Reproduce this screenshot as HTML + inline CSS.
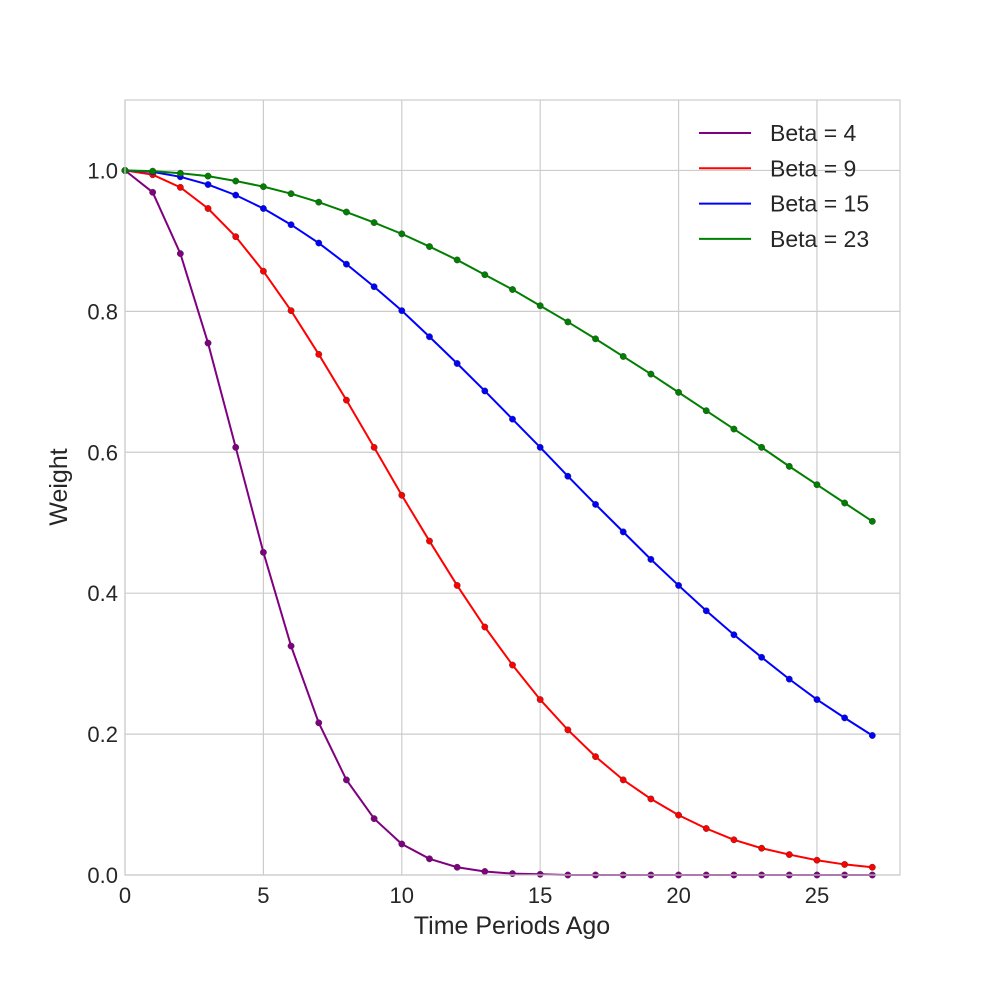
<!DOCTYPE html>
<html><head><meta charset="utf-8"><style>body{margin:0;background:#fff}svg{display:block;font-family:"Liberation Sans",Arial,sans-serif}</style></head>
<body>
<svg id="chart" width="1000" height="1000">
<rect x="0" y="0" width="1000" height="1000" fill="#fff"/>
<g id="grid"></g>
<g id="series"></g>
<rect x="125" y="100" width="775" height="775" fill="none" stroke="#cccccc" stroke-width="1.2"/>
<g id="ticks"></g>
<text x="512" y="934" font-size="25" fill="#262626" text-anchor="middle">Time Periods Ago</text>
<text x="67" y="487" font-size="25" fill="#262626" text-anchor="middle" transform="rotate(-90 67 487)">Weight</text>
<g id="legend"></g>
</svg>
<script>
const xTicks = [0, 5, 10, 15, 20, 25];
const yTicks = [0.0, 0.2, 0.4, 0.6, 0.8, 1.0];
const yTickLabels = ["0.0", "0.2", "0.4", "0.6", "0.8", "1.0"];
const periods = [0,1,2,3,4,5,6,7,8,9,10,11,12,13,14,15,16,17,18,19,20,21,22,23,24,25,26,27];
const seriesNames = ["Beta = 4", "Beta = 9", "Beta = 15", "Beta = 23"];
const seriesColors = ["#800080", "#ff0000", "#0000ff", "#008000"];
const beta4 = [1,0.969,0.882,0.755,0.607,0.458,0.325,0.216,0.135,0.080,0.044,0.023,0.011,0.005,0.002,0.001,0,0,0,0,0,0,0,0,0,0,0,0];
const beta9 = [1,0.994,0.976,0.946,0.906,0.857,0.801,0.739,0.674,0.607,0.539,0.474,0.411,0.352,0.298,0.249,0.206,0.168,0.135,0.108,0.085,0.066,0.050,0.038,0.029,0.021,0.015,0.011];
const beta15 = [1,0.998,0.991,0.980,0.965,0.946,0.923,0.897,0.867,0.835,0.801,0.764,0.726,0.687,0.647,0.607,0.566,0.526,0.487,0.448,0.411,0.375,0.341,0.309,0.278,0.249,0.223,0.198];
const beta23 = [1,0.999,0.996,0.992,0.985,0.977,0.967,0.955,0.941,0.926,0.910,0.892,0.873,0.852,0.831,0.808,0.785,0.761,0.736,0.711,0.685,0.659,0.633,0.607,0.580,0.554,0.528,0.502];
const allSeries = [beta4, beta9, beta15, beta23];

const NS = "http://www.w3.org/2000/svg";
const L=125,R=900,T=100,B=875, XMAX=28, YMAX=1.1;
const xs = v => L + v/XMAX*(R-L);
const ys = v => B - v/YMAX*(B-T);
function mk(tag, attrs, parent){const e=document.createElementNS(NS,tag);for(const k in attrs)e.setAttribute(k,attrs[k]);parent.appendChild(e);return e;}
const grid=document.getElementById('grid'), ticks=document.getElementById('ticks');
xTicks.forEach(t=>{
  const l=mk('line',{x1:xs(t),x2:xs(t),y1:T,y2:B,stroke:'#cccccc','stroke-width':1.2},grid);
  
  
  const tx=mk('text',{x:xs(t),y:B+28,'font-size':22,fill:'#262626','text-anchor':'middle'},ticks);
  tx.textContent=String(t);
  
  
});
yTicks.forEach((t,i)=>{
  const l=mk('line',{x1:L,x2:R,y1:ys(t),y2:ys(t),stroke:'#cccccc','stroke-width':1.2},grid);
  
  
  const tx=mk('text',{x:L-7,y:ys(t)+8,'font-size':22,fill:'#262626','text-anchor':'end'},ticks);
  tx.textContent=yTickLabels[i];
  
  
});
const sg=document.getElementById('series');
allSeries.forEach((vals,si)=>{
  const g=mk('g',{},sg);
  
  
  const pts=vals.map((v,i)=>xs(periods[i])+','+ys(v)).join(' ');
  const pl=mk('polyline',{points:pts,fill:'none',stroke:seriesColors[si],'stroke-width':2},g);
  
  
  vals.forEach((v,i)=>{
    const c=mk('circle',{cx:xs(periods[i]),cy:ys(v),r:3.2,fill:seriesColors[si],stroke:'#333','stroke-width':0.4},g);
    
    
  });
});
const lg=document.getElementById('legend');
seriesNames.forEach((n,i)=>{
  const y=133+i*35.3;
  const l=mk('line',{x1:699,x2:751,y1:y,y2:y,stroke:seriesColors[i],'stroke-width':2},lg);
  
  
  const t=mk('text',{x:770,y:y+8,'font-size':23,fill:'#262626'},lg);
  t.textContent=n;
  
  
});
</script>
</body></html>
